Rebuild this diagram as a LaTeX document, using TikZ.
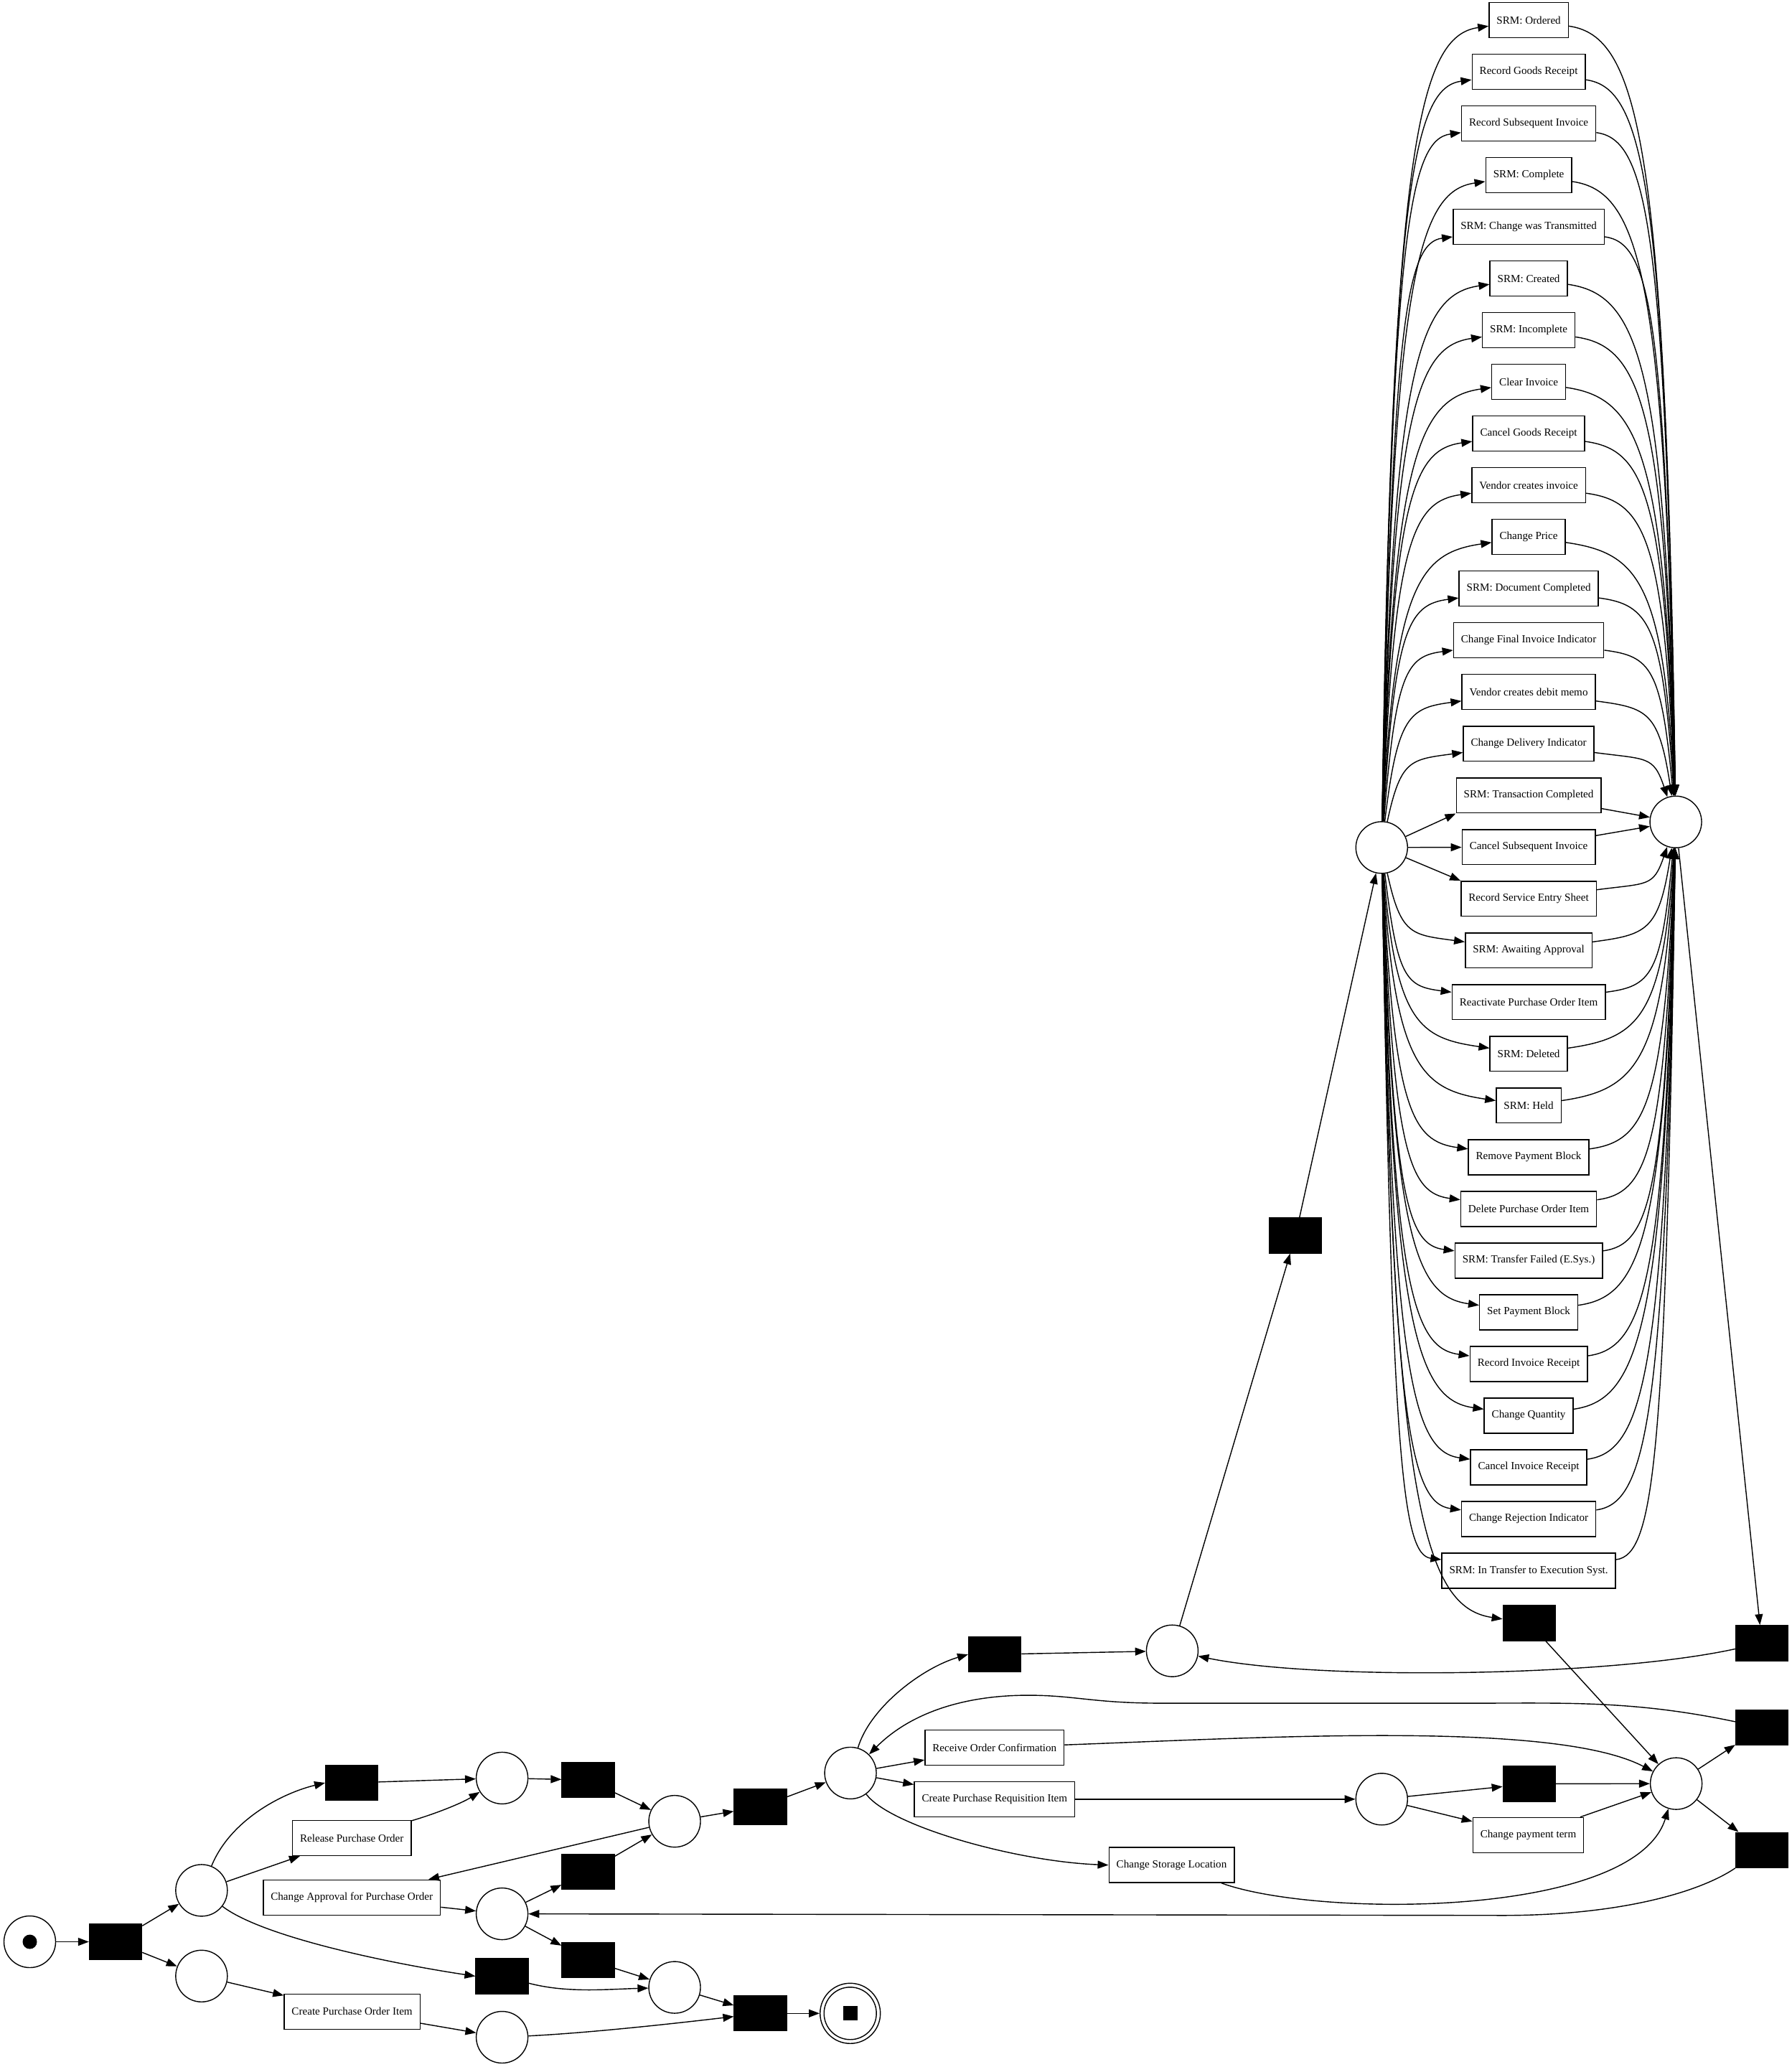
\documentclass[tikz,border=0pt]{standalone}
\usepackage{fontspec}
\setmainfont{Liberation Serif}
\usetikzlibrary{arrows.meta,calc}
\tikzset{
  place/.style = {circle, draw, line width=0.4pt, minimum size=0.72cm, inner sep=0pt},
  trans/.style = {rectangle, draw, fill=black, minimum width=0.73cm,
                  minimum height=0.49cm, inner sep=0pt},
  task/.style  = {rectangle, draw, line width=0.4pt, minimum height=0.49cm,
                  inner xsep=0.105cm, inner ysep=0pt, font=\fontsize{4.3}{5}\selectfont},
  tok/.style   = {fill=black, inner sep=0pt, minimum size=0.2cm},
  arr/.style   = {-{Triangle[length=0.15cm,width=0.11cm]}, line width=0.4pt},
}

\begin{document}
\begin{tikzpicture}[x=0.018366cm, y=-0.018366cm]
  \useasboundingbox (0,0) rectangle (1359,1568);

  % --- start, first split ---
  \node[place] (p0) at (22.6,1473) {};
  \node[tok, circle] (tok0) at (p0) {};
  \node[trans] (t0) at (87.7,1473) {};
  \node[place] (p1) at (152.9,1434) {};
  \node[place] (p2) at (152.9,1499) {};

  \node[trans] (t1)  at (266.9,1352.4) {};
  \node[task]  (rpo) at (266.9,1394.3) {Release Purchase Order};
  \node[task]  (capo) at (266.9,1439.4) {Change Approval for Purchase Order};
  \node[task]  (cpoi) at (267.1,1525.9) {Create Purchase Order Item};

  \node[place] (p3) at (380.9,1348.8) {};
  \node[place] (p5) at (380.9,1451.8) {};
  \node[trans] (t4) at (380.9,1499.1) {};
  \node[place] (p7) at (380.9,1545.4) {};
  \node[trans] (t2) at (446.2,1350.3) {};
  \node[trans] (t3) at (446.2,1419.9) {};
  \node[trans] (t5) at (446.2,1486.7) {};
  \node[place] (p4) at (511.8,1381.6) {};
  \node[place] (p6) at (511.8,1507.6) {};
  \node[trans] (t6) at (576.9,1370.6) {};
  \node[trans] (t7) at (576.9,1527.3) {};

  % --- end place ---
  \node[place, minimum size=0.84cm] (pend) at (645,1527.3) {};
  \node[place, minimum size=0.73cm] (pendin) at (pend) {};
  \node[tok] (tokend) at (pend) {};

  % --- middle part ---
  \node[place] (p8)  at (645.2,1345) {};
  \node[trans] (t8)  at (754.7,1255) {};
  \node[task]  (roc) at (754.5,1325.6) {Receive Order Confirmation};
  \node[task]  (cpri) at (754.5,1364.8) {Create Purchase Requisition Item};
  \node[place] (p9)  at (889.3,1252.3) {};
  \node[task]  (csl) at (888.8,1414.8) {Change Storage Location};
  \node[trans] (t9)  at (982.8,937.2) {};
  \node[place] (p10) at (1048.2,642.9) {};
  \node[place] (p12) at (1048.2,1364.8) {};
  \node[trans] (t10) at (1160.1,1231.2) {};
  \node[trans] (t14) at (1160.1,1353.2) {};
  \node[task]  (cpt) at (1159.4,1392.1) {Change payment term};
  \node[place] (p11) at (1271.3,623.5) {};
  \node[place] (p13) at (1271.6,1353) {};
  \node[trans] (t11) at (1336.6,1246.4) {};
  \node[trans] (t12) at (1336.6,1310.3) {};
  \node[trans] (t13) at (1336.6,1403.4) {};

  % --- column of tasks between p10 and p11 ---
  \foreach \i/\lbl in {1/SRM: Ordered, 2/Record Goods Receipt,
      3/Record Subsequent Invoice, 4/SRM: Complete,
      5/SRM: Change was Transmitted, 6/SRM: Created, 7/SRM: Incomplete,
      8/Clear Invoice, 9/Cancel Goods Receipt, 10/Vendor creates invoice,
      11/Change Price, 12/SRM: Document Completed,
      13/Change Final Invoice Indicator, 14/Vendor creates debit memo,
      15/Change Delivery Indicator, 16/SRM: Transaction Completed,
      17/Cancel Subsequent Invoice, 18/Record Service Entry Sheet,
      19/SRM: Awaiting Approval, 20/Reactivate Purchase Order Item,
      21/SRM: Deleted, 22/SRM: Held, 23/Remove Payment Block,
      24/Delete Purchase Order Item, 25/SRM: Transfer Failed (E.Sys.),
      26/Set Payment Block, 27/Record Invoice Receipt, 28/Change Quantity,
      29/Cancel Invoice Receipt, 30/Change Rejection Indicator,
      31/SRM: In Transfer to Execution Syst.} {
    \pgfmathsetmacro{\yy}{15.4+(\i-1)*39.2}
    \node[task] (b\i) at (1159.7,\yy) {\lbl};
  }

  % --- arcs, left part ---
  \draw[arr] (p0) -- (t0);
  \draw[arr] (t0) -- (p1);
  \draw[arr] (t0) -- (p2);
  \draw[arr] (p1) .. controls (175,1380) and (215,1360) .. (t1.west);
  \draw[arr] (p1) -- (rpo);
  \draw[arr] (p1) .. controls (200,1470) and (300,1490) .. (t4.west);
  \draw[arr] (p2) -- (cpoi);
  \draw[arr] (t1) -- (p3);
  \draw[arr] (rpo) .. controls (330,1376) and (350,1368) .. (p3);
  \draw[arr] (p3) -- (t2);
  \draw[arr] (t2) -- (p4);
  \draw[arr] (p4) -- (t6);
  \draw[arr] (p4) -- (capo);
  \draw[arr] (capo) -- (p5);
  \draw[arr] (p5) -- (t3);
  \draw[arr] (t3) -- (p4);
  \draw[arr] (p5) -- (t5);
  \draw[arr] (t5) -- (p6);
  \draw[arr] (t4) .. controls (430,1512) and (460,1509) .. (p6);
  \draw[arr] (cpoi) -- (p7);
  \draw[arr] (p6) -- (t7);
  \draw[arr] (p7) .. controls (450,1542) and (520,1534) .. (t7);
  \draw[arr] (t7) -- (pend);
  \draw[arr] (t6) -- (p8);

  % --- arcs, middle part ---
  \draw[arr] (p8) .. controls (660,1295) and (700,1265) .. (t8.west);
  \draw[arr] (p8) -- (roc);
  \draw[arr] (p8) -- (cpri);
  \draw[arr] (p8) .. controls (675,1385) and (770,1412) .. (csl.west);
  \draw[arr] (t8) -- (p9);
  \draw[arr] (p9) -- (t9);
  \draw[arr] (t9) -- (p10);
  \draw[arr] (p11) -- (t11);
  \draw[arr] (t11) .. controls (1220,1272) and (1000,1275) .. (p9);
  \draw[arr] (t10) -- (p13);
  \draw[arr] (roc) .. controls (960,1318) and (1180,1305) .. (p13);
  \draw[arr] (cpri) -- (p12);
  \draw[arr] (p12) -- (t14);
  \draw[arr] (p12) -- (cpt);
  \draw[arr] (t14) -- (p13);
  \draw[arr] (cpt) -- (p13);
  \draw[arr] (csl) .. controls (1000,1455) and (1240,1455) .. (p13);
  \draw[arr] (p13) -- (t12);
  \draw[arr] (p13) -- (t13);
  \draw[arr] (t12) .. controls (1240,1290) and (1190,1292) .. (1120,1292)
    -- (880,1292) .. controls (830,1292) and (815,1286) .. (780,1286)
    .. controls (730,1286) and (690,1300) .. (p8);
  \draw[arr] (t13) .. controls (1290,1435) and (1230,1453) .. (1140,1453) -- (p5);

  % --- fan p10 -> tasks ---
  \foreach \i in {1,...,15} {
    \pgfmathsetmacro{\yy}{15.4+(\i-1)*39.2}
    \pgfmathsetmacro{\ddy}{642.9-\yy}
    \pgfmathsetmacro{\ccx}{1055+600/\ddy}
    \pgfmathsetmacro{\ccy}{642.9-0.85*\ddy}
    \draw[arr] (p10) .. controls (\ccx,\ccy) and ($(1048.2,\yy)!0.35!(b\i.west)+(0,12)$) .. (b\i);
  }
  \foreach \i in {19,...,31} {
    \pgfmathsetmacro{\yy}{15.4+(\i-1)*39.2}
    \pgfmathsetmacro{\ddy}{\yy-642.9}
    \pgfmathsetmacro{\ccx}{1055+600/\ddy}
    \pgfmathsetmacro{\ccy}{642.9+0.85*\ddy}
    \draw[arr] (p10) .. controls (\ccx,\ccy) and ($(1048.2,\yy)!0.35!(b\i.west)+(0,-12)$) .. (b\i);
  }
  \draw[arr] (p10) -- (b16.south west);
  \draw[arr] (p10) -- (b17);
  \draw[arr] (p10) -- (b18.north west);
  \draw[arr] (p10) .. controls (1056,1142.9) and ($(1048.2,1231.2)!0.35!(t10.west)+(0,-12)$) .. (t10);

  % --- fan tasks -> p11 ---
  \foreach \i in {1,...,15} {
    \pgfmathsetmacro{\yy}{15.4+(\i-1)*39.2}
    \pgfmathsetmacro{\ddy}{623.5-\yy}
    \pgfmathsetmacro{\ccx}{1264.5-600/\ddy}
    \pgfmathsetmacro{\ccy}{623.5-0.85*\ddy}
    \draw[arr] (b\i) .. controls ($(b\i.east)!0.65!(1271.3,\yy)+(0,12)$) and (\ccx,\ccy) .. (p11);
  }
  \foreach \i in {18,...,31} {
    \pgfmathsetmacro{\yy}{15.4+(\i-1)*39.2}
    \pgfmathsetmacro{\ddy}{\yy-623.5}
    \pgfmathsetmacro{\ccx}{1264.5-600/\ddy}
    \pgfmathsetmacro{\ccy}{623.5+0.85*\ddy}
    \draw[arr] (b\i) .. controls ($(b\i.east)!0.65!(1271.3,\yy)+(0,-12)$) and (\ccx,\ccy) .. (p11);
  }
  \draw[arr] (b16) -- (p11);
  \draw[arr] (b17) -- (p11);
\end{tikzpicture}
\end{document}
